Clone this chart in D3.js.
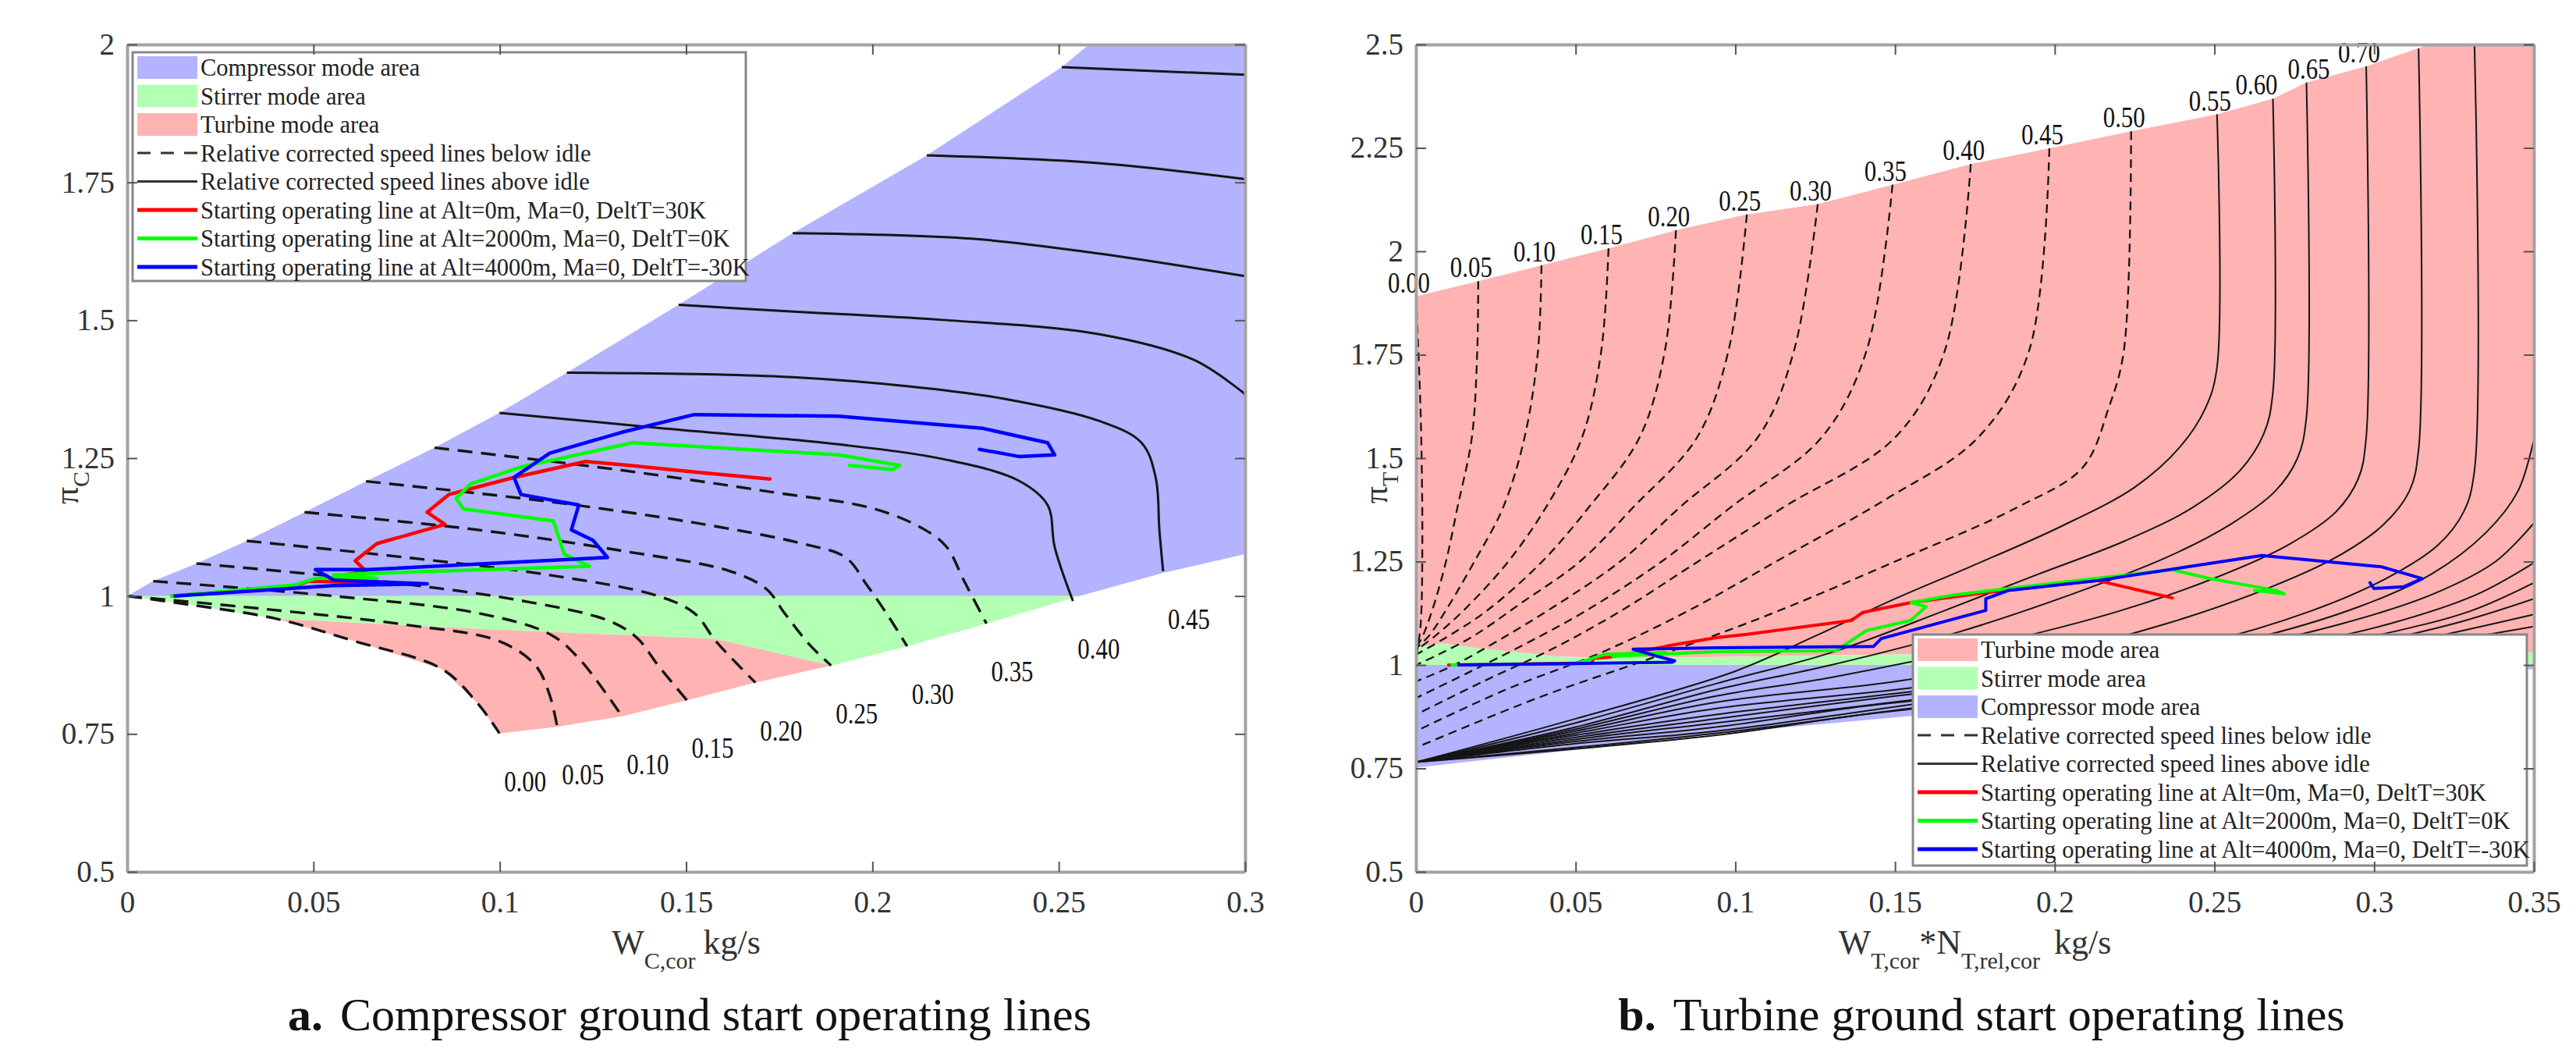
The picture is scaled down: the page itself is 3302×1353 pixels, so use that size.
<!DOCTYPE html>
<html>
<head>
<meta charset="utf-8">
<script src="https://cdnjs.cloudflare.com/ajax/libs/d3/7.8.5/d3.min.js"></script>
<style>
  body { margin: 0; background: #fff; }
  text { font-family: "Liberation Serif", "Times New Roman", serif; }
</style>
</head>
<body>
<svg id="fig" width="3302" height="1353"></svg>
<script>
// ---------- panel a: compressor map ----------
var compXTicks = [0, 0.05, 0.1, 0.15, 0.2, 0.25, 0.3];
var compYTicks = [0.5, 0.75, 1, 1.25, 1.5, 1.75, 2];
var compSpeedLabels = ["0.00", "0.05", "0.10", "0.15", "0.20", "0.25", "0.30", "0.35", "0.40", "0.45"];

// relative corrected speed lines below idle (0.00 .. 0.35)
var compBelowIdle = [
  [[0, 1], [0.0166, 0.9845], [0.0399, 0.959], [0.0611, 0.918], [0.0844, 0.868], [0.0941, 0.805], [0.0999, 0.751]],
  [[0, 1], [0.036, 0.977], [0.0747, 0.948], [0.0999, 0.918], [0.1096, 0.874], [0.1134, 0.82], [0.1154, 0.763]],
  [[0.007, 1.027], [0.0554, 1.0], [0.0941, 0.969], [0.1134, 0.931], [0.1212, 0.887], [0.1328, 0.782]],
  [[0.0186, 1.059], [0.065, 1.029], [0.1038, 0.994], [0.1289, 0.956], [0.1367, 0.925], [0.1425, 0.874], [0.1502, 0.811]],
  [[0.0321, 1.100], [0.0747, 1.070], [0.1134, 1.038], [0.1425, 1.000], [0.1522, 0.969], [0.158, 0.918], [0.1686, 0.843]],
  [[0.0476, 1.152], [0.0941, 1.120], [0.1328, 1.082], [0.1618, 1.045], [0.1715, 1.013], [0.1764, 0.969], [0.1831, 0.912], [0.1889, 0.874]],
  [[0.0641, 1.208], [0.1134, 1.171], [0.1522, 1.133], [0.1812, 1.095], [0.1928, 1.070], [0.1986, 1.019], [0.2044, 0.962], [0.2093, 0.909]],
  [[0.0825, 1.269], [0.1328, 1.228], [0.1715, 1.190], [0.2006, 1.158], [0.2141, 1.120], [0.2199, 1.089], [0.2247, 1.026], [0.2306, 0.950]]
];
// relative corrected speed lines above idle (0.40, 0.45, ...)
var compAboveIdle = [
  [[0.0999, 1.332], [0.1425, 1.305], [0.1909, 1.275], [0.2199, 1.247], [0.2393, 1.209], [0.247, 1.165], [0.2489, 1.089], [0.2538, 0.991]],
  [[0.118, 1.405], [0.1752, 1.398], [0.2102, 1.380], [0.2351, 1.358], [0.2606, 1.318], [0.2722, 1.278], [0.276, 1.215], [0.277, 1.120], [0.278, 1.045]],
  [[0.148, 1.528], [0.1752, 1.517], [0.218, 1.501], [0.2606, 1.475], [0.2863, 1.428], [0.3, 1.366]],
  [[0.1786, 1.658], [0.2265, 1.648], [0.2606, 1.621], [0.3, 1.580]],
  [[0.2146, 1.799], [0.2606, 1.785], [0.3, 1.756]],
  [[0.2508, 1.959], [0.3, 1.945]]
];

var compAreaCompressor = [[0, 1], [0.007, 1.027], [0.0186, 1.059], [0.0321, 1.100], [0.0476, 1.152], [0.0641, 1.208], [0.0825, 1.269],
  [0.0999, 1.332], [0.118, 1.405], [0.148, 1.528], [0.1786, 1.658], [0.2146, 1.799], [0.2508, 1.959], [0.2581, 2.0],
  [0.3, 2.0], [0.3, 1.076], [0.278, 1.042], [0.2555, 1.0]];
var compAreaStirrer = [[0, 1], [0.2555, 1.0], [0.2306, 0.950], [0.2093, 0.909], [0.1889, 0.874], [0.158, 0.922],
  [0.0844, 0.9435], [0.0399, 0.959], [0.0166, 0.9845]];
var compAreaTurbine = [[0.0399, 0.959], [0.0844, 0.9435], [0.158, 0.922], [0.1889, 0.874], [0.1686, 0.843], [0.1502, 0.811],
  [0.1328, 0.782], [0.1154, 0.763], [0.0999, 0.751], [0.0941, 0.805], [0.0844, 0.868], [0.0611, 0.918]];

// starting operating lines
var compOpAlt0 = [[0.012, 1.0], [0.045, 1.018], [0.0486, 1.027], [0.066, 1.024], [0.0554, 1.035], [0.0641, 1.045], [0.0612, 1.064],
  [0.067, 1.095], [0.0853, 1.130], [0.0805, 1.152], [0.0863, 1.184], [0.1038, 1.215], [0.1231, 1.244], [0.1347, 1.237],
  [0.1522, 1.225], [0.1725, 1.212]];
var compOpAlt2000 = [[0.012, 1.0], [0.045, 1.02], [0.0505, 1.032], [0.067, 1.032], [0.0554, 1.038], [0.065, 1.041], [0.1241, 1.054],
  [0.1173, 1.076], [0.1144, 1.136], [0.0902, 1.158], [0.0883, 1.177], [0.0921, 1.203], [0.1057, 1.234], [0.1357, 1.278],
  [0.1909, 1.256], [0.2073, 1.237], [0.2054, 1.229], [0.1938, 1.237]];
var compOpAlt4000 = [[0.0128, 1.0], [0.0554, 1.019], [0.0805, 1.022], [0.0554, 1.029], [0.0505, 1.048], [0.065, 1.048], [0.1289, 1.070],
  [0.125, 1.101], [0.1192, 1.120], [0.1212, 1.165], [0.1057, 1.184], [0.1038, 1.215], [0.1134, 1.259], [0.1328, 1.297],
  [0.1522, 1.329], [0.1909, 1.326], [0.2296, 1.304], [0.247, 1.278], [0.2489, 1.256], [0.2393, 1.253], [0.2287, 1.266]];

// ---------- panel b: turbine map ----------
var turbXTicks = [0, 0.05, 0.1, 0.15, 0.2, 0.25, 0.3, 0.35];
var turbYTicks = [0.5, 0.75, 1, 1.25, 1.5, 1.75, 2, 2.25, 2.5];
var turbSpeedLabels = ["0.00", "0.05", "0.10", "0.15", "0.20", "0.25", "0.30", "0.35", "0.40", "0.45", "0.50", "0.55", "0.60", "0.65", "0.70"];

var turbBelowIdle = [
  [[0, 1.891], [0.0015, 1.6], [0.002, 1.3], [0.0015, 1.1], [0, 1.0], [0, 0.76]],
  [[0.0195, 1.928], [0.0192, 1.76], [0.0175, 1.55], [0.013, 1.381], [0.0094, 1.25], [0.005, 1.13], [0.0015, 1.06], [0, 1.045]],
  [[0.0393, 1.966], [0.0382, 1.758], [0.034, 1.55], [0.0273, 1.381], [0.0183, 1.25], [0.010, 1.14], [0.004, 1.07], [0, 1.04]],
  [[0.0603, 2.007], [0.058, 1.758], [0.052, 1.55], [0.0407, 1.381], [0.0289, 1.25], [0.016, 1.14], [0.006, 1.07], [0, 1.035]],
  [[0.0814, 2.051], [0.0779, 1.758], [0.070, 1.55], [0.0541, 1.381], [0.0395, 1.25], [0.022, 1.13], [0.008, 1.06], [0, 1.025]],
  [[0.1036, 2.089], [0.0978, 1.758], [0.088, 1.55], [0.068, 1.381], [0.0513, 1.25], [0.033, 1.15], [0.018, 1.07], [0.007, 1.025], [0, 1.0]],
  [[0.1258, 2.114], [0.1183, 1.758], [0.107, 1.55], [0.0826, 1.381], [0.0639, 1.25], [0.043, 1.14], [0.026, 1.06], [0.012, 1.0], [0, 0.96]],
  [[0.1492, 2.161], [0.141, 1.758], [0.127, 1.55], [0.0985, 1.381], [0.0769, 1.25], [0.053, 1.13], [0.034, 1.05], [0.016, 0.98], [0, 0.92]],
  [[0.1737, 2.211], [0.1655, 1.758], [0.150, 1.55], [0.115, 1.381], [0.0883, 1.25], [0.064, 1.13], [0.043, 1.04], [0.021, 0.96], [0, 0.88]],
  [[0.1983, 2.249], [0.1919, 1.758], [0.176, 1.55], [0.147, 1.40], [0.115, 1.26], [0.085, 1.13], [0.058, 1.03], [0.028, 0.94], [0, 0.84]],
  [[0.2239, 2.29], [0.2216, 1.758], [0.2169, 1.622], [0.2088, 1.478], [0.1885, 1.382], [0.150, 1.25], [0.110, 1.12], [0.075, 1.02], [0.038, 0.92], [0, 0.80]]
];
var turbAboveIdle = [
  [[0.2508, 2.331], [0.2508, 1.72], [0.2473, 1.623], [0.2391, 1.526], [0.2251, 1.43], [0.2017, 1.334], [0.1737, 1.238], [0.150, 1.16], [0.125, 1.07], [0.10, 0.985], [0.05, 0.87], [0, 0.765]],
  [[0.2683, 2.369], [0.2683, 1.66], [0.2655, 1.56], [0.258, 1.47], [0.243, 1.38], [0.222, 1.30], [0.195, 1.22], [0.165, 1.13], [0.13, 1.03], [0.094, 0.955], [0.05, 0.86], [0, 0.765]],
  [[0.2788, 2.408], [0.2788, 1.60], [0.276, 1.50], [0.269, 1.42], [0.255, 1.34], [0.235, 1.26], [0.205, 1.17], [0.17, 1.08], [0.13, 1.0], [0.094, 0.94], [0.05, 0.85], [0, 0.765]],
  [[0.2975, 2.447], [0.2975, 1.55], [0.295, 1.45], [0.288, 1.37], [0.273, 1.29], [0.25, 1.21], [0.22, 1.13], [0.18, 1.05], [0.13, 0.97], [0.094, 0.925], [0.05, 0.845], [0, 0.765]],
  [[0.3139, 2.49], [0.3139, 1.52], [0.311, 1.42], [0.303, 1.34], [0.288, 1.26], [0.265, 1.18], [0.235, 1.10], [0.195, 1.02], [0.15, 0.96], [0.094, 0.91], [0.05, 0.84], [0, 0.765]],
  [[0.3314, 2.5], [0.3314, 1.47], [0.328, 1.37], [0.32, 1.29], [0.304, 1.21], [0.28, 1.13], [0.245, 1.05], [0.20, 0.99], [0.15, 0.94], [0.094, 0.895], [0.05, 0.835], [0, 0.765]],
  [[0.35, 1.545], [0.345, 1.42], [0.335, 1.32], [0.318, 1.22], [0.295, 1.14], [0.26, 1.06], [0.21, 0.99], [0.16, 0.94], [0.094, 0.88], [0.05, 0.83], [0, 0.765]],
  [[0.35, 1.343], [0.338, 1.25], [0.318, 1.17], [0.29, 1.10], [0.25, 1.03], [0.20, 0.97], [0.15, 0.925], [0.094, 0.87], [0.05, 0.825], [0, 0.765]],
  [[0.35, 1.247], [0.332, 1.17], [0.305, 1.10], [0.27, 1.04], [0.22, 0.98], [0.16, 0.92], [0.094, 0.86], [0.05, 0.82], [0, 0.765]],
  [[0.35, 1.199], [0.33, 1.13], [0.30, 1.07], [0.26, 1.01], [0.20, 0.95], [0.14, 0.90], [0.094, 0.85], [0.05, 0.815], [0, 0.765]],
  [[0.35, 1.16], [0.325, 1.10], [0.29, 1.04], [0.24, 0.98], [0.18, 0.93], [0.094, 0.84], [0.05, 0.81], [0, 0.765]],
  [[0.35, 1.122], [0.32, 1.07], [0.28, 1.01], [0.22, 0.95], [0.16, 0.90], [0.094, 0.835], [0, 0.765]],
  [[0.35, 1.093], [0.31, 1.04], [0.26, 0.98], [0.20, 0.93], [0.14, 0.88], [0.094, 0.83], [0, 0.765]]
];

var turbAreaTurbine = [[0, 1.891], [0.0195, 1.928], [0.0393, 1.966], [0.0603, 2.007], [0.0814, 2.051], [0.1036, 2.089], [0.1258, 2.114],
  [0.1492, 2.161], [0.1737, 2.211], [0.1983, 2.249], [0.2239, 2.290], [0.2508, 2.331], [0.2683, 2.369], [0.2788, 2.408],
  [0.2975, 2.447], [0.3138, 2.491], [0.3174, 2.5], [0.35, 2.5], [0.35, 1.03], [0.155, 1.026], [0.10, 1.02], [0.07, 1.017],
  [0.045, 1.02], [0.02, 1.04], [0.008, 1.052], [0, 1.042]];
var turbAreaStirrer = [[0, 1.0], [0.35, 1.0], [0.35, 1.03], [0.155, 1.026], [0.10, 1.02], [0.07, 1.017], [0.045, 1.02],
  [0.02, 1.04], [0.008, 1.052], [0, 1.042]];
var turbAreaCompressor = [[0, 0.752], [0.05, 0.795], [0.1, 0.838], [0.155, 0.877], [0.35, 0.99], [0.35, 1.0], [0, 1.0]];

var turbOpAlt0 = [[0.0102, 1.0], [0.055, 1.005], [0.0557, 1.016], [0.0606, 1.019], [0.0686, 1.03], [0.0802, 1.048], [0.094, 1.066],
  [0.1036, 1.074], [0.1363, 1.1075], [0.1398, 1.1268], [0.155, 1.151], [0.1784, 1.175], [0.2134, 1.204], [0.2368, 1.162]];
var turbOpAlt2000 = [[0.0112, 1.0], [0.05, 1.003], [0.0592, 1.026], [0.0779, 1.03], [0.0616, 1.021], [0.094, 1.032], [0.1316, 1.035],
  [0.141, 1.083], [0.155, 1.108], [0.1597, 1.141], [0.155, 1.151], [0.169, 1.170], [0.1901, 1.189], [0.2368, 1.23],
  [0.2485, 1.209], [0.2695, 1.18], [0.2718, 1.172], [0.2625, 1.18]];
var turbOpAlt4000 = [[0.0134, 1.0], [0.0802, 1.0065], [0.081, 1.01], [0.0756, 1.021], [0.068, 1.038], [0.094, 1.0415], [0.1433, 1.045],
  [0.1457, 1.064], [0.1784, 1.132], [0.1784, 1.16], [0.1854, 1.18], [0.2134, 1.204], [0.2648, 1.2645], [0.3022, 1.2375],
  [0.3151, 1.2086], [0.3092, 1.189], [0.2999, 1.185], [0.2987, 1.199]];

var opNames = ["Starting operating line at Alt=0m, Ma=0, DeltT=30K",
  "Starting operating line at Alt=2000m, Ma=0, DeltT=0K",
  "Starting operating line at Alt=4000m, Ma=0, DeltT=-30K"];
var speedNames = ["Relative corrected speed lines below idle", "Relative corrected speed lines above idle"];

// ---------- drawing ----------
var svg = d3.select("#fig");
var FILL_C = "#b3b3ff", FILL_S = "#b3ffb3", FILL_T = "#ffb3b3";
var OP_COLORS = ["#ff0000", "#00ff00", "#0000ff"];
var serif = '"Liberation Serif", "Times New Roman", serif';

function drawLegend(g, x0, y0, w, h, entries) {
  var lg = g.append("g").attr("transform", "translate(" + x0 + "," + y0 + ")");
  lg.append("rect").attr("width", w).attr("height", h)
    .attr("fill", "#fff").attr("stroke", "#888").attr("stroke-width", 3);
  entries.forEach(function (e, i) {
    var cy = 19.5 + i * 36.5;
    if (e.kind == "patch") {
      lg.append("rect").attr("x", 6).attr("y", cy - 14.5).attr("width", 77).attr("height", 29).attr("fill", e.color);
    } else {
      lg.append("line").attr("x1", 6).attr("x2", 83).attr("y1", cy).attr("y2", cy)
        .attr("stroke", e.color).attr("stroke-width", e.width)
        .attr("stroke-dasharray", e.dash ? e.dash : null);
    }
    lg.append("text").attr("x", 87).attr("y", cy + 10.5)
      .attr("font-size", 30.5).attr("fill", "#222").text(e.name);
  });
}

function drawPanel(o) {
  var g = svg.append("g");
  var x = d3.scaleLinear().domain(o.xDomain).range([o.left, o.right]);
  var y = d3.scaleLinear().domain(o.yDomain).range([o.bottom, o.top]);

  svg.append("clipPath").attr("id", "clip-" + o.id).append("rect")
    .attr("x", o.left).attr("y", o.top).attr("width", o.right - o.left).attr("height", o.bottom - o.top);
  var plot = g.append("g").attr("clip-path", "url(#clip-" + o.id + ")");

  var poly = d3.line().x(function (d) { return x(d[0]); }).y(function (d) { return y(d[1]); }).curve(d3.curveLinearClosed);
  var smooth = d3.line().x(function (d) { return x(d[0]); }).y(function (d) { return y(d[1]); }).curve(d3.curveCatmullRom.alpha(0.5));
  var straight = d3.line().x(function (d) { return x(d[0]); }).y(function (d) { return y(d[1]); });

  o.areas.forEach(function (a) {
    plot.append("path").attr("d", poly(a.pts)).attr("fill", a.color);
  });

  o.below.forEach(function (pts) {
    plot.append("path").attr("d", smooth(pts)).attr("fill", "none")
      .attr("stroke", "#151515").attr("stroke-width", o.dashWidth).attr("stroke-dasharray", o.dash);
  });
  o.above.forEach(function (pts) {
    plot.append("path").attr("d", smooth(pts)).attr("fill", "none")
      .attr("stroke", "#151515").attr("stroke-width", o.solidWidth);
  });

  o.ops.forEach(function (pts, i) {
    plot.append("path").attr("d", straight(pts)).attr("fill", "none")
      .attr("stroke", OP_COLORS[i]).attr("stroke-width", o.opWidth)
      .attr("stroke-linejoin", "round").attr("stroke-linecap", "round");
  });

  // speed labels
  o.labels.forEach(function (lab, i) {
    var pts = i < o.below.length ? o.below[i] : o.above[i - o.below.length];
    var p = o.labelAtEnd ? pts[pts.length - 1] : pts[0];
    var nudge = (o.labelNudge && o.labelNudge[lab]) || 0;  // crowded labels near the top
    g.append("text")
      .attr("x", x(p[0]) + o.labelDx + nudge).attr("y", y(p[1]) + o.labelDy)
      .attr("text-anchor", "middle").attr("font-size", 38).attr("fill", "#111")
      .attr("textLength", 54).attr("lengthAdjust", "spacingAndGlyphs")
      .text(lab);
  });

  drawLegend(g, o.legend.x, o.legend.y, o.legend.w, o.legend.h, o.legend.entries);

  // axes, MATLAB style box with inward ticks
  function styleAxis(ag, labelled) {
    ag.attr("font-family", serif);
    ag.select(".domain").attr("stroke", "#a3a3a3").attr("stroke-width", 4);
    ag.selectAll(".tick line").attr("stroke", "#555").attr("stroke-width", 2);
    if (labelled) ag.selectAll(".tick text").attr("font-size", 39).attr("fill", "#333");
    else ag.selectAll(".tick text").remove();
  }
  styleAxis(g.append("g").attr("transform", "translate(0," + o.top + ")")
    .call(d3.axisTop(x).tickValues(o.xTicks).tickSizeInner(-13).tickSizeOuter(0)), false);
  styleAxis(g.append("g").attr("transform", "translate(" + o.right + ",0)")
    .call(d3.axisRight(y).tickValues(o.yTicks).tickSizeInner(-13).tickSizeOuter(0)), false);
  styleAxis(g.append("g").attr("transform", "translate(0," + o.bottom + ")")
    .call(d3.axisBottom(x).tickValues(o.xTicks).tickFormat(function (d) { return String(d); })
      .tickSizeInner(-13).tickSizeOuter(0).tickPadding(24)), true);
  styleAxis(g.append("g").attr("transform", "translate(" + o.left + ",0)")
    .call(d3.axisLeft(y).tickValues(o.yTicks).tickFormat(function (d) { return String(d); })
      .tickSizeInner(-13).tickSizeOuter(0).tickPadding(16)), true);

  // y label (pi with subscript)
  var yl = g.append("text").attr("transform", "translate(" + o.yLabelX + "," + o.yLabelY + ") rotate(-90)")
    .attr("text-anchor", "middle").attr("font-size", 44).attr("fill", "#333");
  yl.append("tspan").text("\u03c0");
  yl.append("tspan").attr("font-size", 30).attr("dy", 14).text(o.yLabelSub);

  // x label
  var xl = g.append("text").attr("x", (o.left + o.right) / 2).attr("y", 1222)
    .attr("text-anchor", "middle").attr("font-size", 44).attr("fill", "#333");
  o.xLabel.forEach(function (part) {
    var t = xl.append("tspan").text(part.t);
    if (part.sub) t.attr("font-size", 30).attr("dy", 19);
    else if (part.back) t.attr("dy", -19);
    if (part.dx) t.attr("dx", part.dx);
  });

  // caption
  var cap = g.append("text").attr("x", o.capX).attr("y", 1320)
    .attr("text-anchor", "middle").attr("font-size", 60).attr("fill", "#111");
  cap.append("tspan").attr("font-weight", "bold").text(o.capTag);
  cap.append("tspan").attr("dx", 22).text(o.capText);
}

function lineEntries() {
  return [
    { kind: "line", color: "#333", width: 3, dash: "17,13", name: speedNames[0] },
    { kind: "line", color: "#333", width: 3, name: speedNames[1] },
    { kind: "line", color: OP_COLORS[0], width: 5, name: opNames[0] },
    { kind: "line", color: OP_COLORS[1], width: 5, name: opNames[1] },
    { kind: "line", color: OP_COLORS[2], width: 5, name: opNames[2] }
  ];
}

drawPanel({
  id: "comp", left: 163, right: 1596, top: 57, bottom: 1117,
  xDomain: [0, 0.3], yDomain: [0.5, 2], xTicks: compXTicks, yTicks: compYTicks,
  areas: [{ pts: compAreaCompressor, color: FILL_C }, { pts: compAreaStirrer, color: FILL_S }, { pts: compAreaTurbine, color: FILL_T }],
  below: compBelowIdle, above: compAboveIdle,
  dash: "19,11", dashWidth: 3.4, solidWidth: 3, opWidth: 4.5,
  ops: [compOpAlt0, compOpAlt2000, compOpAlt4000],
  labels: compSpeedLabels, labelAtEnd: true, labelDx: 33, labelDy: 74,
  legend: { x: 170, y: 67, w: 786, h: 293, entries: [
    { kind: "patch", color: FILL_C, name: "Compressor mode area" },
    { kind: "patch", color: FILL_S, name: "Stirrer mode area" },
    { kind: "patch", color: FILL_T, name: "Turbine mode area" }].concat(lineEntries()) },
  yLabelX: 100, yLabelY: 625, yLabelSub: "C",
  xLabel: [{ t: "W" }, { t: "C,cor", sub: true }, { t: "kg/s", back: true, dx: 10 }],
  capX: 884, capTag: "a.", capText: "Compressor ground start operating lines"
});

drawPanel({
  id: "turb", left: 1815, right: 3248, top: 57, bottom: 1117,
  xDomain: [0, 0.35], yDomain: [0.5, 2.5], xTicks: turbXTicks, yTicks: turbYTicks,
  areas: [{ pts: turbAreaTurbine, color: FILL_T }, { pts: turbAreaStirrer, color: FILL_S }, { pts: turbAreaCompressor, color: FILL_C }],
  below: turbBelowIdle, above: turbAboveIdle,
  dash: "11,7", dashWidth: 2.3, solidWidth: 2, opWidth: 4,
  ops: [turbOpAlt0, turbOpAlt2000, turbOpAlt4000],
  labels: turbSpeedLabels, labelAtEnd: false, labelDx: -9, labelDy: -5,
  labelNudge: { "0.60": -12, "0.65": 12 },
  legend: { x: 2452, y: 813, w: 787, h: 296, entries: [
    { kind: "patch", color: FILL_T, name: "Turbine mode area" },
    { kind: "patch", color: FILL_S, name: "Stirrer mode area" },
    { kind: "patch", color: FILL_C, name: "Compressor mode area" }].concat(lineEntries()) },
  yLabelX: 1778, yLabelY: 625, yLabelSub: "T",
  xLabel: [{ t: "W" }, { t: "T,cor", sub: true }, { t: "*N", back: true }, { t: "T,rel,cor", sub: true }, { t: "kg/s", back: true, dx: 18 }],
  capX: 2540, capTag: "b.", capText: "Turbine ground start operating lines"
});
</script>
</body>
</html>
